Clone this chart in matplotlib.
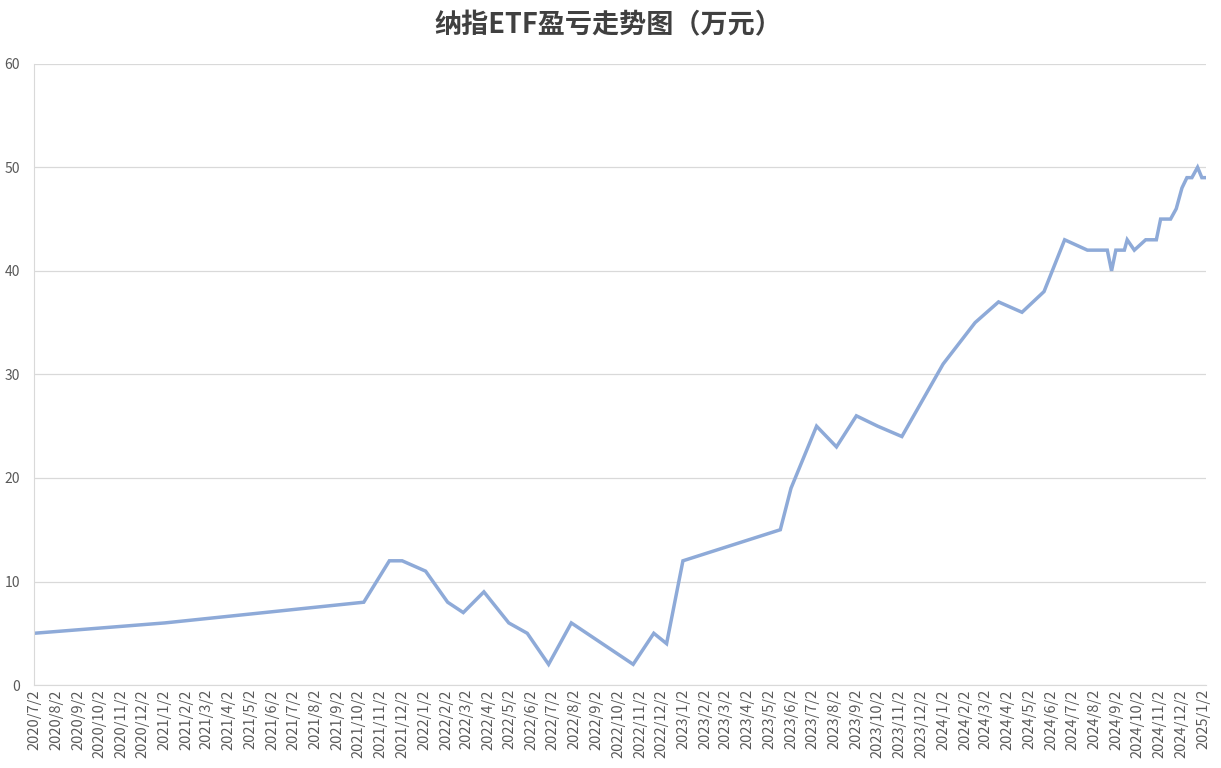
import numpy as np
import matplotlib
matplotlib.use("Agg")
import matplotlib.pyplot as plt
import pandas as pd

plt.rcParams['font.family'] = ['Noto Sans CJK SC', 'DejaVu Sans']

title = "纳指ETF盈亏走势图（万元）"

dates = ["2020-07-02", "2021-01-02", "2021-10-09", "2021-11-14", "2021-12-02",
         "2022-01-04", "2022-02-04", "2022-02-26", "2022-03-27", "2022-05-01",
         "2022-05-27", "2022-06-26", "2022-07-28", "2022-10-23", "2022-11-21",
         "2022-12-09", "2023-01-01", "2023-05-18", "2023-06-02", "2023-07-08",
         "2023-08-05", "2023-09-02", "2023-10-02", "2023-11-05", "2024-01-02",
         "2024-02-16", "2024-03-20", "2024-04-22", "2024-05-23", "2024-06-21",
         "2024-07-23", "2024-08-20", "2024-08-26", "2024-09-01", "2024-09-13",
         "2024-09-17", "2024-09-27", "2024-10-13", "2024-10-28", "2024-11-03",
         "2024-11-17", "2024-11-25", "2024-12-03", "2024-12-10", "2024-12-17",
         "2024-12-25", "2024-12-31", "2025-01-06"]
profit = [5, 6, 8, 12, 12,
          11, 8, 7, 9, 6,
          5, 2, 6, 2, 5,
          4, 12, 15, 19, 25,
          23, 26, 25, 24, 31,
          35, 37, 36, 38, 43,
          42, 42, 40, 42, 42,
          43, 42, 43, 43, 45,
          45, 46, 48, 49, 49,
          50, 49, 49]

tick_dates = pd.date_range("2020-07-02", "2025-01-02", freq=pd.DateOffset(months=1))
tick_labels = [f"{d.year}/{d.month}/{d.day}" for d in tick_dates]

x = pd.to_datetime(dates)

fig = plt.figure(figsize=(12.21, 7.68), dpi=100)
ax = fig.add_axes([0.0278, 0.108, 0.96, 0.809])

ax.plot(x, profit, color='#8eaad8', lw=2.5, solid_joinstyle='miter')

ax.set_xlim(x[0], x[-1])
ax.set_ylim(0, 60)
ax.set_yticks(np.arange(0, 61, 10))
ax.set_xticks(tick_dates)
ax.set_xticklabels(tick_labels, rotation=90)
ax.tick_params(axis='both', length=0, colors='#595959', labelsize=10.5)
ax.tick_params(axis='y', labelsize=10, pad=10)
ax.tick_params(axis='x', pad=3)

ax.grid(axis='y', color='#d9d9d9', lw=0.9)
ax.set_axisbelow(True)
for s in ['top', 'right']:
    ax.spines[s].set_visible(False)
ax.spines['left'].set_color('#d9d9d9')
ax.spines['bottom'].set_color('#d9d9d9')

fig.text(0.498, 0.967, title, ha='center', va='center', fontsize=19.5,
         fontweight='bold', color='#404040')

fig.savefig("out.png", dpi=100)
